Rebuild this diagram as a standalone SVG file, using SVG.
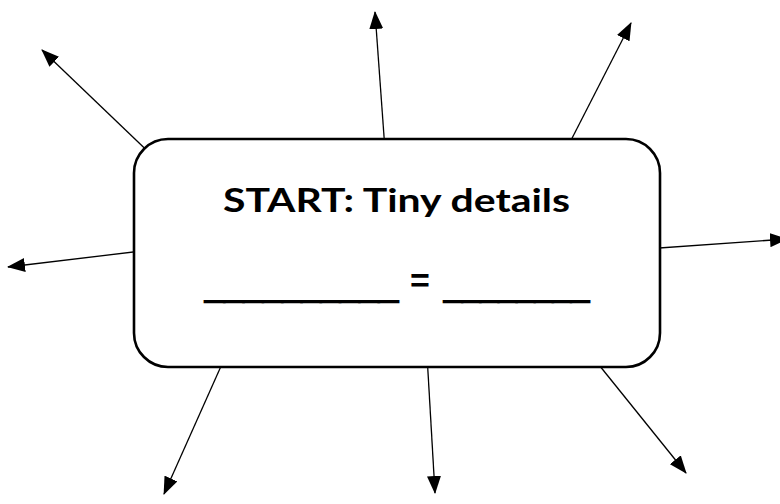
<svg xmlns="http://www.w3.org/2000/svg" width="780" height="504" viewBox="0 0 780 504">
  <style>
    .spoke { stroke: #000; stroke-width: 1.3; fill: none; marker-end: url(#head); }
    .box { fill: #fff; stroke: #000; stroke-width: 2.6; }
    .title { font-family: "Comic Sans MS", Lato, "DejaVu Sans", sans-serif; font-weight: bold; font-size: 33px; fill: #000; }
    .blank { font-family: "Liberation Sans", Arial, sans-serif; font-weight: bold; font-size: 32px; fill: #000; stroke: #000; stroke-width: 2; }
    .eq { font-family: "Liberation Sans", Arial, sans-serif; font-weight: bold; font-size: 34px; fill: #000; }
  </style>
  <defs>
    <marker id="head" markerUnits="userSpaceOnUse" markerWidth="18" markerHeight="14" viewBox="0 0 18 14" refX="17" refY="7" orient="auto">
      <path d="M0,0 L18,7 L0,14 Z" fill="#000"/>
    </marker>
  </defs>

  <!-- spokes radiating from the central box -->
  <g id="connectors">
    <line class="spoke" x1="160" y1="163" x2="42" y2="50"/>
    <line class="spoke" x1="385" y1="150" x2="375" y2="12"/>
    <line class="spoke" x1="566" y1="150" x2="631" y2="23"/>
    <line class="spoke" x1="150" y1="250" x2="8" y2="267"/>
    <line class="spoke" x1="645" y1="249" x2="787" y2="239"/>
    <line class="spoke" x1="226" y1="355" x2="164" y2="494"/>
    <line class="spoke" x1="427" y1="355" x2="435" y2="493"/>
    <line class="spoke" x1="591" y1="355" x2="686" y2="473"/>
  </g>

  <!-- central prompt box -->
  <g id="start">
    <rect class="box" x="134" y="139" width="526" height="228" rx="34" ry="34"/>
    <text class="title" x="223" y="212" textLength="347" lengthAdjust="spacingAndGlyphs">START: Tiny details</text>
    <text class="blank" x="205" y="298" textLength="193" lengthAdjust="spacingAndGlyphs">__________</text>
    <text class="eq" x="420" y="292" text-anchor="middle">=</text>
    <text class="blank" x="444" y="298" textLength="145" lengthAdjust="spacingAndGlyphs">________</text>
  </g>
</svg>
